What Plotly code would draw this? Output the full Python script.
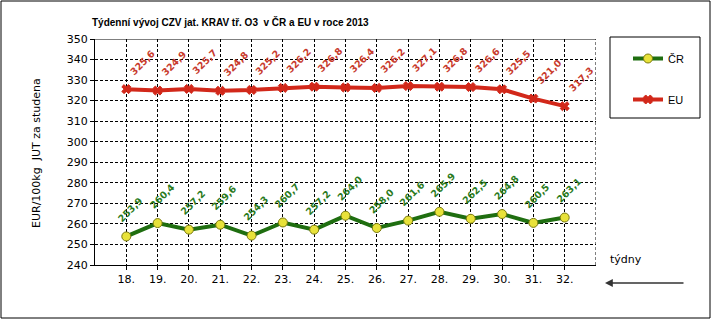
import plotly.graph_objects as go

weeks = list(range(18, 33))
week_labels = [f"{w}." for w in weeks]
cr_values = [253.9, 260.4, 257.2, 259.6, 254.3, 260.7, 257.2, 264.0, 258.0, 261.6, 265.9, 262.5, 264.8, 260.5, 263.1]
eu_values = [325.6, 324.9, 325.7, 324.8, 325.2, 326.2, 326.8, 326.4, 326.2, 327.1, 326.8, 326.6, 325.5, 321.0, 317.3]
y_ticks = list(range(240, 351, 10))

W, H = 715, 322
L, R, T, B = 95, 596, 39, 265


def px(x):
    return (x - L) / (R - L)


def py(y):
    return (B - y) / (B - T)


GREEN = "#1f6e10"
GREEN_TXT = "#2a7a1c"
RED = "#d2281a"
RED_TXT = "#c83a2c"

fig = go.Figure()
fig.add_trace(go.Scatter(
    x=weeks, y=cr_values, name="ČR", mode="lines+markers",
    line=dict(color=GREEN, width=4),
    marker=dict(symbol="circle", size=9, color="#e8e23a", line=dict(color="#7a7a10", width=1)),
    legendgroup="a",
))
fig.add_trace(go.Scatter(
    x=weeks, y=eu_values, name="EU", mode="lines+markers",
    line=dict(color=RED, width=4),
    marker=dict(symbol="x", size=8, color=RED, line=dict(color=RED, width=1)),
    legendgroup="b",
))

annotations = []
for w, v in zip(weeks, cr_values):
    annotations.append(dict(x=w, y=v, xref="x", yref="y", text=f"{v:.1f}".replace(".", ","),
                            showarrow=False, textangle=-45, xshift=4, yshift=27,
                            font=dict(family="DejaVu Sans", size=9.5, color=GREEN_TXT, weight="bold")))
for w, v in zip(weeks, eu_values):
    annotations.append(dict(x=w, y=v, xref="x", yref="y", text=f"{v:.1f}".replace(".", ","),
                            showarrow=False, textangle=-45, xshift=16, yshift=27,
                            font=dict(family="DejaVu Sans", size=9.5, color=RED_TXT, weight="bold")))

annotations.append(dict(x=px(230), y=py(22), xref="paper", yref="paper",
                        text="Týdenní vývoj CZV jat. KRAV tř. O3  v ČR a EU v roce 2013",
                        showarrow=False, xanchor="center", yanchor="middle",
                        font=dict(family="Liberation Sans", size=10, color="black", weight="bold")))
annotations.append(dict(x=px(36), y=py(153), xref="paper", yref="paper",
                        text="EUR/100kg  JUT za studena", showarrow=False, textangle=-90,
                        xanchor="center", yanchor="middle",
                        font=dict(family="DejaVu Sans", size=11, color="black")))
annotations.append(dict(x=px(626), y=py(259), xref="paper", yref="paper",
                        text="týdny", showarrow=False, xanchor="center", yanchor="middle",
                        font=dict(family="DejaVu Sans", size=11, color="black")))
annotations.append(dict(x=px(605), y=py(283), xref="paper", yref="paper",
                        ax=80, ay=0, text="", showarrow=True, arrowhead=2, arrowsize=1.2,
                        arrowwidth=1.3, arrowcolor="#333333"))

shapes = [
    dict(type="rect", xref="paper", yref="paper", x0=px(1), x1=px(710), y0=py(1), y1=py(318),
         line=dict(color="black", width=1)),
    dict(type="rect", xref="paper", yref="paper", x0=px(610), x1=px(700), y0=py(37), y1=py(118),
         line=dict(color="black", width=1)),
    dict(type="line", xref="x", yref="y", x0=33, x1=33, y0=240, y1=350,
         line=dict(color="black", width=1, dash="3px,2px"), layer="below"),
    dict(type="line", xref="x", yref="y", x0=17, x1=33, y0=350, y1=350,
         line=dict(color="black", width=1), layer="below"),
]

fig.update_layout(
    width=W, height=H,
    margin=dict(l=L, r=W - R, t=T, b=H - B, pad=0),
    paper_bgcolor="white", plot_bgcolor="white",
    font=dict(family="DejaVu Sans", size=11, color="black"),
    showlegend=True,
    legend=dict(x=px(628), y=py(44), xanchor="left", yanchor="top",
                xref="paper", yref="paper", bgcolor="rgba(0,0,0,0)",
                tracegroupgap=22, traceorder="grouped",
                font=dict(family="Liberation Sans", size=11, color="black")),
    annotations=annotations,
    shapes=shapes,
)
fig.update_xaxes(range=[17, 33], tickvals=weeks, ticktext=week_labels,
                 showgrid=True, gridcolor="black", gridwidth=1, griddash="3px,2px",
                 showline=True, linecolor="black", linewidth=1,
                 ticks="outside", ticklen=4, tickcolor="black", zeroline=False,
                 tickfont=dict(family="DejaVu Sans", size=11))
fig.update_yaxes(range=[240, 350], tickvals=y_ticks,
                 showgrid=True, gridcolor="black", gridwidth=1, griddash="3px,2px",
                 showline=True, linecolor="black", linewidth=1,
                 ticks="outside", ticklen=4, tickcolor="black", zeroline=False,
                 tickfont=dict(family="DejaVu Sans", size=11))

fig.write_html("out.html")
